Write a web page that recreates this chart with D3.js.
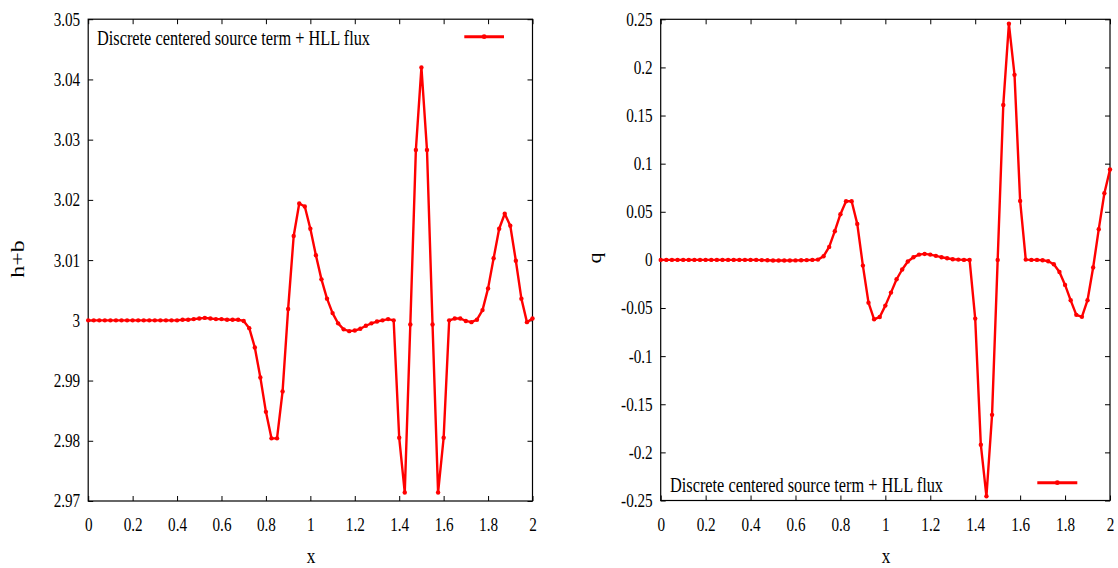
<!DOCTYPE html>
<html>
<head>
<meta charset="utf-8">
<script src="https://cdn.jsdelivr.net/npm/d3@7"></script>
<style>
  html, body { margin: 0; padding: 0; background: #fff; }
  svg { display: block; }
</style>
</head>
<body>
<svg id="chart" width="1118" height="568"></svg>
<script>
// ---------------- DATA ----------------
const xValues = [
  0, 0.025, 0.05, 0.075, 0.1, 0.125, 0.15, 0.175, 0.2, 0.225,
  0.25, 0.275, 0.3, 0.325, 0.35, 0.375, 0.4, 0.425, 0.45, 0.475,
  0.5, 0.525, 0.55, 0.575, 0.6, 0.625, 0.65, 0.675, 0.7, 0.725,
  0.75, 0.775, 0.8, 0.825, 0.85, 0.875, 0.9, 0.925, 0.95, 0.975,
  1.0, 1.025, 1.05, 1.075, 1.1, 1.125, 1.15, 1.175, 1.2, 1.225,
  1.25, 1.275, 1.3, 1.325, 1.35, 1.375, 1.4, 1.425, 1.45, 1.475,
  1.5, 1.525, 1.55, 1.575, 1.6, 1.625, 1.65, 1.675, 1.7, 1.725,
  1.75, 1.775, 1.8, 1.825, 1.85, 1.875, 1.9, 1.925, 1.95, 1.975,
  2.0
];

const hbValues = [
  3.0, 3.0, 3.0, 3.0, 3.0, 3.0, 3.0, 3.0, 3.0, 3.0,
  3.0, 3.0, 3.0, 3.0, 3.0, 3.0, 3.0, 3.0001, 3.0001, 3.0002,
  3.0003, 3.0004, 3.0003, 3.0002, 3.0002, 3.0001, 3.0001, 3.0001, 2.9999, 2.9987,
  2.9955, 2.9905, 2.9848, 2.9804, 2.9804, 2.9882, 3.0019, 3.0140, 3.0194, 3.0189,
  3.0152, 3.0108, 3.0068, 3.0036, 3.0012, 2.9995, 2.9985, 2.9982, 2.9983, 2.9986,
  2.9991, 2.9995, 2.9998, 3.0, 3.0002, 3.0, 2.9805, 2.9714, 2.9993, 3.0283,
  3.0420, 3.0283, 2.9993, 2.9714, 2.9805, 3.0, 3.0003, 3.0003, 2.9999, 2.9997,
  3.0001, 3.0017, 3.0053, 3.0103, 3.0152, 3.0177, 3.0157, 3.0099, 3.0036, 2.9997,
  3.0003
];

const qValues = [
  0, 0, 0, 0, 0, 0, 0, 0, 0, 0,
  0, 0, 0, 0, 0, 0, 0, 0, -0.0002, -0.0004,
  -0.0006, -0.0007, -0.0007, -0.0006, -0.0005, -0.0003, -0.0002, 0.0, 0.0003, 0.0038,
  0.0135, 0.0298, 0.0475, 0.061, 0.061, 0.0374, -0.0059, -0.0444, -0.0617, -0.0593,
  -0.0475, -0.034, -0.0201, -0.0100, -0.0017, 0.0028, 0.0055, 0.0062, 0.0055, 0.0042,
  0.0028, 0.0017, 0.0007, 0.0003, 0.0, 0.0, -0.061, -0.192, -0.2456, -0.161,
  0.0, 0.161, 0.2453, 0.1923, 0.0613, 0.0003, 0.0, 0.0, -0.0003, -0.0014,
  -0.0045, -0.0125, -0.026, -0.042, -0.0571, -0.0592, -0.0419, -0.0079, 0.0319, 0.0693,
  0.094
];

const xTicks = [0, 0.2, 0.4, 0.6, 0.8, 1.0, 1.2, 1.4, 1.6, 1.8, 2.0];
const xTickLabels = ["0", "0.2", "0.4", "0.6", "0.8", "1", "1.2", "1.4", "1.6", "1.8", "2"];

const hbTicks = [2.97, 2.98, 2.99, 3.0, 3.01, 3.02, 3.03, 3.04, 3.05];
const hbTickLabels = ["2.97", "2.98", "2.99", "3", "3.01", "3.02", "3.03", "3.04", "3.05"];

const qTicks = [-0.25, -0.2, -0.15, -0.1, -0.05, 0, 0.05, 0.1, 0.15, 0.2, 0.25];
const qTickLabels = ["-0.25", "-0.2", "-0.15", "-0.1", "-0.05", "0", "0.05", "0.1", "0.15", "0.2", "0.25"];

const legendLabel = "Discrete centered source term + HLL flux";
const xLabel = "x";
const hbLabel = "h+b";
const qLabel = "q";

// ---------------- DRAWING ----------------
const svg = d3.select("#chart");
svg.append("rect").attr("width", 1118).attr("height", 568).attr("fill", "#fff");

const FONT = "'Liberation Serif', 'Times New Roman', serif";
const SQ = 0.82;   // horizontal squeeze of all text
const RED = "#ff0000";

function squeeze(sel, f) {
  sel.each(function () {
    const L = this.getComputedTextLength();
    d3.select(this).attr("textLength", L * f).attr("lengthAdjust", "spacingAndGlyphs");
  });
}

function panel(cfg) {
  const { left, right, top, bottom, yDomain, yTicks, yTickLabels, values,
          legendX, legendBaseline, legendLine, yLabelText, yLabelPos, xLabelPos } = cfg;
  const g = svg.append("g");
  const x = d3.scaleLinear().domain([0, 2]).range([left, right]);
  const y = d3.scaleLinear().domain(yDomain).range([bottom, top]);

  const tickLen = 5;
  // bottom axis
  const gb = g.append("g").attr("transform", `translate(0,${bottom})`)
    .call(d3.axisBottom(x).tickValues(xTicks).tickFormat((d, i) => xTickLabels[i])
      .tickSizeInner(-tickLen).tickSizeOuter(0).tickPadding(17));
  // top axis (mirror)
  const gt = g.append("g").attr("transform", `translate(0,${top})`)
    .call(d3.axisTop(x).tickValues(xTicks).tickFormat("").tickSizeInner(-tickLen).tickSizeOuter(0));
  // left axis
  const gl = g.append("g").attr("transform", `translate(${left},0)`)
    .call(d3.axisLeft(y).tickValues(yTicks).tickFormat((d, i) => yTickLabels[i])
      .tickSizeInner(-tickLen).tickSizeOuter(0).tickPadding(8));
  // right axis (mirror)
  const gr = g.append("g").attr("transform", `translate(${right},0)`)
    .call(d3.axisRight(y).tickValues(yTicks).tickFormat("").tickSizeInner(-tickLen).tickSizeOuter(0));

  [gb, gt, gl, gr].forEach(a => {
    a.select(".domain").remove();
    a.selectAll(".tick line").attr("stroke", "#000").attr("stroke-width", 1);
    a.selectAll(".tick text").attr("font-family", FONT).attr("font-size", 18.5).attr("fill", "#000");
  });
  squeeze(gb.selectAll(".tick text"), SQ);
  squeeze(gl.selectAll(".tick text"), SQ);

  // frame
  g.append("rect").attr("x", left).attr("y", top)
    .attr("width", right - left).attr("height", bottom - top)
    .attr("fill", "none").attr("stroke", "#000").attr("stroke-width", 1.2);

  // data
  const pts = xValues.map((xv, i) => [xv, values[i]]);
  const line = d3.line().x(d => x(d[0])).y(d => y(d[1]));
  g.append("path").datum(pts).attr("d", line)
    .attr("fill", "none").attr("stroke", RED).attr("stroke-width", 2.4)
    .attr("stroke-linejoin", "round");
  g.append("g").selectAll("circle").data(pts).join("circle")
    .attr("cx", d => x(d[0])).attr("cy", d => y(d[1])).attr("r", 2.2).attr("fill", RED);

  // legend
  const lt = g.append("text").attr("x", legendX).attr("y", legendBaseline)
    .attr("font-family", FONT).attr("font-size", 21).attr("fill", "#000").text(legendLabel);
  lt.attr("textLength", 273).attr("lengthAdjust", "spacingAndGlyphs");
  g.append("line").attr("x1", legendLine[0]).attr("x2", legendLine[1])
    .attr("y1", legendLine[2]).attr("y2", legendLine[2])
    .attr("stroke", RED).attr("stroke-width", 3);
  g.append("circle").attr("cx", (legendLine[0] + legendLine[1]) / 2).attr("cy", legendLine[2])
    .attr("r", 2.4).attr("fill", RED);

  // axis labels
  g.append("text").attr("text-anchor", "middle")
    .attr("transform", `translate(${xLabelPos[0]},${xLabelPos[1]}) scale(${SQ},1)`)
    .attr("font-family", FONT).attr("font-size", 21).attr("fill", "#000").text(xLabel);
  g.append("text").attr("text-anchor", "middle")
    .attr("transform", `translate(${yLabelPos[0]},${yLabelPos[1]}) scale(${SQ},1) rotate(-90)`)
    .attr("font-family", FONT).attr("font-size", yLabelText.length > 1 ? 24 : 22)
    .attr("fill", "#000").text(yLabelText);
}

panel({
  left: 88.2, right: 532.5, top: 19.2, bottom: 501,
  yDomain: [2.97, 3.05], yTicks: hbTicks, yTickLabels: hbTickLabels, values: hbValues,
  legendX: 97, legendBaseline: 44.5, legendLine: [464.3, 504, 36.7],
  yLabelText: hbLabel, yLabelPos: [24, 259], xLabelPos: [311, 563]
});

panel({
  left: 660.7, right: 1110, top: 19.3, bottom: 500.5,
  yDomain: [-0.25, 0.25], yTicks: qTicks, yTickLabels: qTickLabels, values: qValues,
  legendX: 670, legendBaseline: 491.7, legendLine: [1037.3, 1077.3, 482.7],
  yLabelText: qLabel, yLabelPos: [601, 258], xLabelPos: [886, 563]
});
</script>
</body>
</html>
